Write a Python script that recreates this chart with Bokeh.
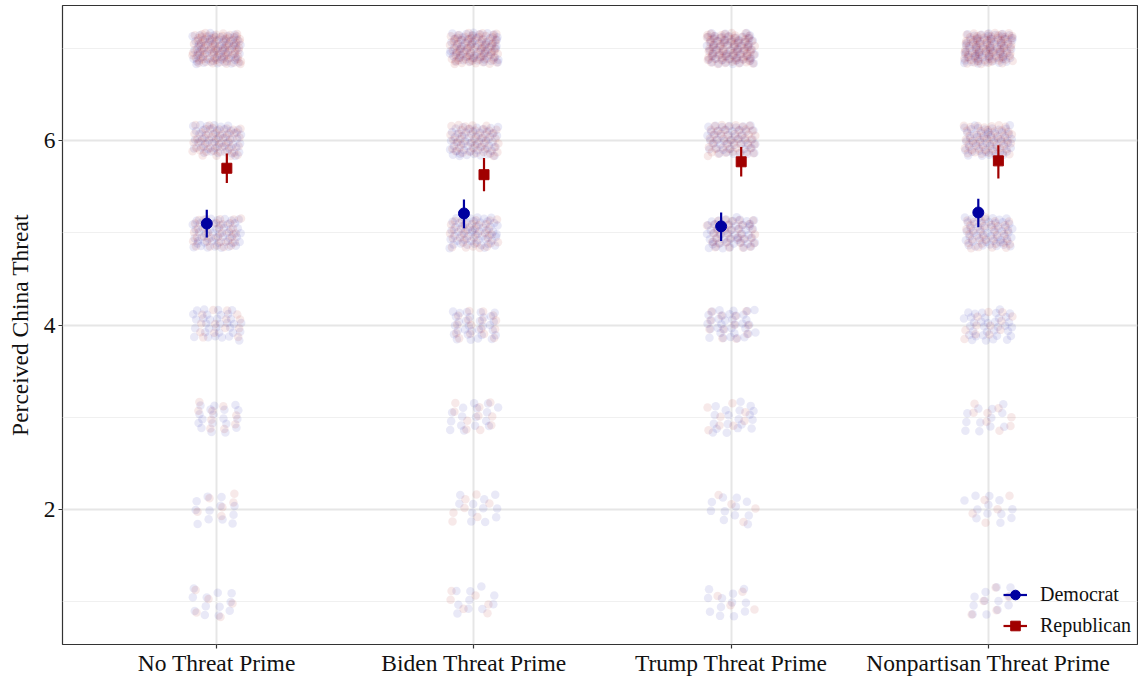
from bokeh.plotting import figure
from bokeh.models import (ColumnDataSource, FixedTicker, Legend, LegendItem)
from bokeh.embed import file_html
from bokeh.resources import INLINE

# ---- data -------------------------------------------------------------
conditions = ["No Threat Prime", "Biden Threat Prime",
              "Trump Threat Prime", "Nonpartisan Threat Prime"]
levels = [1, 2, 3, 4, 5, 6, 7]

# respondents per threat level (1..7), per condition
dem_counts = [
    [12, 12, 18, 32, 50, 48, 60],
    [10, 11, 16, 30, 52, 50, 62],
    [12, 11, 19, 34, 52, 46, 62],
    [12, 12, 12, 34, 50, 50, 66],
]
rep_counts = [
    [5, 6, 9, 14, 34, 46, 82],
    [6, 7, 10, 16, 34, 44, 78],
    [4, 4, 8, 12, 34, 46, 82],
    [5, 5, 8, 12, 34, 48, 82],
]

# group means with 95% intervals
dem_mean = [5.10, 5.21, 5.07, 5.22]
dem_lo = [4.95, 5.05, 4.91, 5.06]
dem_hi = [5.25, 5.36, 5.22, 5.37]
rep_mean = [5.70, 5.63, 5.77, 5.78]
rep_lo = [5.54, 5.45, 5.61, 5.59]
rep_hi = [5.86, 5.81, 5.93, 5.95]

DEM = "#0000A0"
REP = "#A00000"
FONT = "Liberation Serif"

# ---- jittered respondents (low-discrepancy spread) ---------------------
G = 1.32471795724474602596
A1, A2 = 1.0 / G, 1.0 / (G * G)
JX, JY = 0.095, 0.17
_k = [0]


def jitter_points(counts):
    xs, ys = [], []
    for ci, row in enumerate(counts):
        for lv, n in zip(levels, row):
            for _ in range(n):
                _k[0] += 1
                k = _k[0]
                u = (0.5 + k * A1) % 1.0
                v = (0.5 + k * A2) % 1.0
                xs.append(ci + 1 + (u - 0.5) * 2 * JX)
                ys.append(lv + (v - 0.5) * 2 * JY)
    return xs, ys


dx, dy = jitter_points(dem_counts)
rx, ry = jitter_points(rep_counts)

p = figure(width=1138, height=681, output_backend="svg", toolbar_location=None,
           x_range=(0.4, 4.58), y_range=(0.535, 7.465),
           min_border_left=62, min_border_right=1, min_border_top=5,
           min_border_bottom=37)

p.scatter(dx, dy, size=8.5, fill_color=DEM, fill_alpha=0.085, line_color=None)
p.scatter(rx, ry, size=8.5, fill_color=REP, fill_alpha=0.085, line_color=None)

# ---- means and intervals ----------------------------------------------
off = 0.039
dem_src = ColumnDataSource(dict(x=[i + 1 - off for i in range(4)], m=dem_mean,
                                lo=dem_lo, hi=dem_hi))
rep_src = ColumnDataSource(dict(x=[i + 1 + off for i in range(4)], m=rep_mean,
                                lo=rep_lo, hi=rep_hi))

dem_seg = p.segment(x0="x", y0="lo", x1="x", y1="hi", source=dem_src,
                    line_color=DEM, line_width=2.2)
dem_pt = p.scatter(x="x", y="m", source=dem_src, marker="circle", size=11,
                   fill_color=DEM, line_color=DEM)
rep_seg = p.segment(x0="x", y0="lo", x1="x", y1="hi", source=rep_src,
                    line_color=REP, line_width=2.2)
rep_pt = p.scatter(x="x", y="m", source=rep_src, marker="square", size=10,
                   fill_color=REP, line_color=REP)

legend = Legend(items=[
    LegendItem(label="Democrat", renderers=[dem_seg, dem_pt]),
    LegendItem(label="Republican", renderers=[rep_seg, rep_pt]),
], location=(941, 6))
legend.background_fill_alpha = 0
legend.border_line_color = None
legend.label_text_font = FONT
legend.label_text_font_size = "20px"
legend.label_text_color = "#111111"
legend.label_height = 25
legend.glyph_width = 24
legend.glyph_height = 25
legend.label_standoff = 13
legend.spacing = 6
legend.padding = 6
legend.margin = 0
p.add_layout(legend)

# ---- axes and grid ----------------------------------------------------
p.xaxis.ticker = FixedTicker(ticks=[1, 2, 3, 4])
p.xaxis.major_label_overrides = {i + 1: c for i, c in enumerate(conditions)}
p.yaxis.ticker = FixedTicker(ticks=[2, 4, 6], minor_ticks=[1, 3, 5, 7])
p.yaxis.axis_label = "Perceived China Threat"

for ax in (p.xaxis[0], p.yaxis[0]):
    ax.axis_line_color = None
    ax.major_tick_line_color = "#333333"
    ax.major_tick_line_width = 1.2
    ax.major_tick_out = 4
    ax.major_tick_in = 0
    ax.minor_tick_line_color = None
    ax.major_label_text_font = FONT
    ax.major_label_text_font_size = "23.5px"
    ax.major_label_text_color = "#111111"
    ax.major_label_standoff = 3
    ax.axis_label_text_font = FONT
    ax.axis_label_text_font_size = "23.5px"
    ax.axis_label_text_font_style = "normal"
    ax.axis_label_text_color = "#111111"
    ax.axis_label_standoff = 8

p.xaxis.major_label_standoff = 1

p.xgrid.ticker = FixedTicker(ticks=[1, 2, 3, 4])
p.xgrid.grid_line_color = "#E6E6E6"
p.xgrid.grid_line_width = 2
p.ygrid.ticker = FixedTicker(ticks=[2, 4, 6], minor_ticks=[1, 3, 5, 7])
p.ygrid.grid_line_color = "#E6E6E6"
p.ygrid.grid_line_width = 2
p.ygrid.minor_grid_line_color = "#F0F0F0"
p.ygrid.minor_grid_line_width = 1.2

p.outline_line_color = "#333333"
p.outline_line_width = 1.2
p.background_fill_color = "white"
p.border_fill_color = "white"

open("out.html", "w").write(file_html(p, INLINE))
